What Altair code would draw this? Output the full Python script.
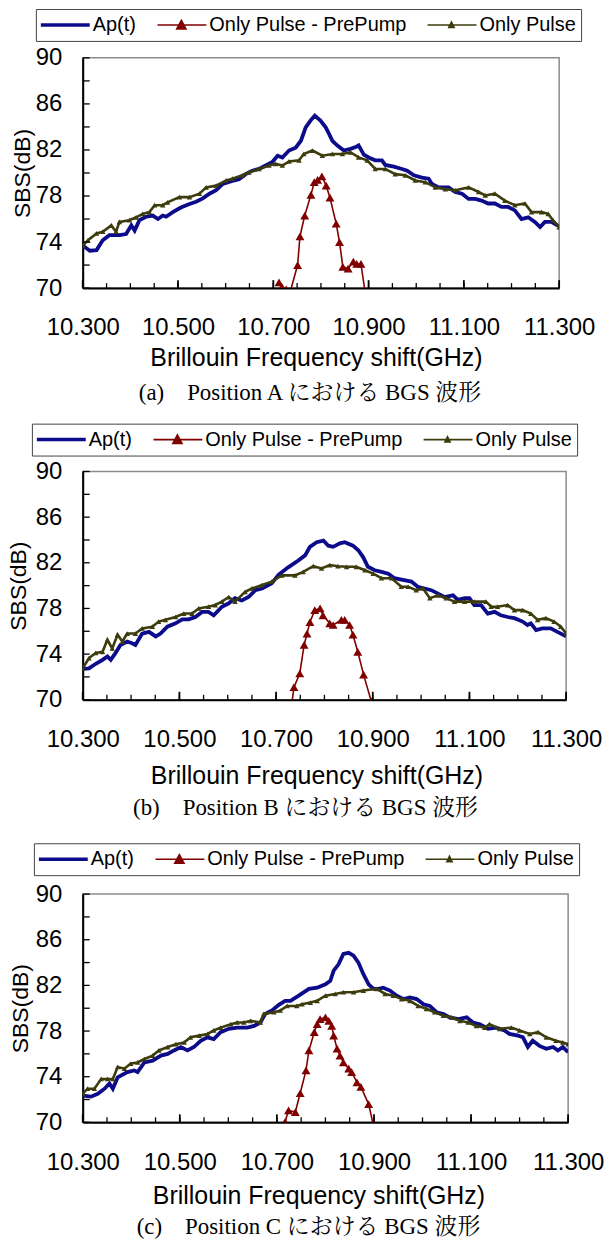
import altair as alt
import pandas as pd

SERIES = ["Ap(t)", "Only Pulse - PrePump", "Only Pulse"]
COLORS = ["#0b0b8b", "#800000", "#3c3c0c"]
X_LABELS = [10.3, 10.5, 10.7, 10.9, 11.1, 11.3]
X_TICKS = [10.3, 10.35, 10.4, 10.45, 10.5, 10.55, 10.6, 10.65, 10.7, 10.75, 10.8,
           10.85, 10.9, 10.95, 11.0, 11.05, 11.1, 11.15, 11.2, 11.25, 11.3]
Y_LABELS = [70, 74, 78, 82, 86, 90]
Y_TICKS = [70, 72, 74, 76, 78, 80, 82, 84, 86, 88, 90]
CAPTIONS = ["(a)　Position A における BGS 波形",
            "(b)　Position B における BGS 波形",
            "(c)　Position C における BGS 波形"]

# ---------------- Panel A ----------------
A_AP = [(10.300, 73.7), (10.315, 73.25), (10.329, 73.3), (10.342, 74.15), (10.356, 74.6),
        (10.377, 74.6), (10.391, 74.7), (10.402, 75.45), (10.409, 75.0), (10.419, 75.9),
        (10.433, 76.2), (10.447, 76.3), (10.458, 76.0), (10.468, 76.3), (10.475, 76.2),
        (10.489, 76.6), (10.506, 77.0), (10.524, 77.3), (10.538, 77.5), (10.552, 77.8),
        (10.566, 78.2), (10.580, 78.5), (10.594, 79.05), (10.614, 79.3), (10.628, 79.45),
        (10.642, 79.9), (10.656, 80.2), (10.670, 80.35), (10.684, 80.65), (10.698, 80.95),
        (10.709, 81.5), (10.719, 81.35), (10.733, 81.95), (10.747, 82.2), (10.758, 82.8),
        (10.768, 83.97), (10.778, 84.55), (10.787, 84.98), (10.799, 84.55), (10.810, 83.97),
        (10.817, 83.4), (10.824, 82.8), (10.834, 82.4), (10.848, 81.95), (10.862, 82.1),
        (10.873, 82.25), (10.879, 82.4), (10.890, 81.6), (10.900, 81.35), (10.914, 81.1),
        (10.928, 81.1), (10.935, 80.7), (10.953, 80.55), (10.970, 80.35), (10.981, 80.2),
        (10.995, 79.8), (11.012, 79.6), (11.026, 79.5), (11.033, 79.05), (11.047, 78.75),
        (11.068, 78.75), (11.082, 78.35), (11.096, 78.2), (11.110, 77.75), (11.124, 77.75),
        (11.137, 77.6), (11.151, 77.35), (11.165, 77.35), (11.179, 77.05), (11.193, 77.05),
        (11.207, 76.75), (11.221, 76.0), (11.235, 76.15), (11.249, 75.75), (11.260, 75.3),
        (11.270, 75.75), (11.284, 75.75), (11.298, 75.4)]
A_PP = [(10.712, 70.5), (10.718, 70.1), (10.727, 69.9), (10.733, 69.3), (10.751, 72.0),
        (10.756, 74.5), (10.766, 76.3), (10.779, 78.1), (10.786, 79.2), (10.793, 79.4),
        (10.802, 79.7), (10.811, 78.9), (10.819, 77.85), (10.832, 75.6), (10.839, 74.0),
        (10.846, 71.85), (10.857, 71.7), (10.868, 72.3), (10.875, 72.1), (10.884, 72.1),
        (10.895, 69.0)]
A_OP = [(10.300, 73.7), (10.311, 74.15), (10.329, 74.75), (10.342, 74.9), (10.360, 75.45),
        (10.370, 74.9), (10.377, 75.75), (10.398, 75.9), (10.412, 76.15), (10.426, 76.45),
        (10.440, 76.6), (10.451, 77.2), (10.468, 77.2), (10.478, 77.45), (10.503, 77.9),
        (10.524, 77.9), (10.545, 78.2), (10.559, 78.75), (10.580, 78.9), (10.601, 79.35),
        (10.614, 79.5), (10.635, 79.8), (10.649, 80.05), (10.670, 80.35), (10.691, 80.65),
        (10.705, 80.8), (10.719, 80.65), (10.733, 81.0), (10.754, 81.1), (10.764, 81.65),
        (10.782, 81.95), (10.803, 81.5), (10.824, 81.65), (10.845, 81.65), (10.862, 81.8),
        (10.879, 81.35), (10.897, 81.1), (10.914, 80.35), (10.935, 80.35), (10.956, 79.9),
        (10.977, 79.8), (10.998, 79.35), (11.019, 79.2), (11.040, 78.75), (11.061, 78.6),
        (11.082, 78.5), (11.110, 78.75), (11.131, 78.35), (11.145, 78.05), (11.165, 78.2),
        (11.186, 77.6), (11.207, 77.2), (11.228, 77.35), (11.242, 76.6), (11.263, 76.6),
        (11.277, 76.45), (11.287, 75.9), (11.300, 75.3)]

# ---------------- Panel B ----------------
B_AP = [(10.300, 72.7), (10.313, 72.75), (10.327, 73.15), (10.341, 73.5), (10.351, 73.8),
        (10.358, 73.5), (10.368, 74.1), (10.378, 74.8), (10.392, 75.1), (10.402, 74.95),
        (10.409, 74.8), (10.423, 75.8), (10.437, 75.95), (10.451, 75.55), (10.461, 75.8),
        (10.475, 76.4), (10.492, 76.7), (10.506, 77.05), (10.519, 77.05), (10.533, 77.25),
        (10.547, 77.7), (10.560, 77.7), (10.571, 77.4), (10.588, 78.15), (10.602, 78.45),
        (10.615, 78.9), (10.629, 78.7), (10.643, 79.0), (10.657, 79.6), (10.671, 79.75),
        (10.691, 80.2), (10.705, 80.95), (10.725, 81.6), (10.746, 82.2), (10.760, 82.65),
        (10.770, 83.4), (10.784, 83.8), (10.798, 83.95), (10.808, 83.5), (10.818, 83.4),
        (10.832, 83.7), (10.842, 83.8), (10.859, 83.5), (10.870, 83.1), (10.880, 82.5),
        (10.890, 81.65), (10.904, 81.35), (10.918, 81.2), (10.932, 81.05), (10.945, 80.65),
        (10.962, 80.5), (10.980, 80.35), (10.993, 79.9), (11.007, 79.75), (11.021, 79.6),
        (11.035, 79.3), (11.048, 79.0), (11.066, 79.15), (11.076, 78.75), (11.090, 78.9),
        (11.100, 78.9), (11.110, 78.3), (11.124, 78.3), (11.138, 77.55), (11.152, 77.7),
        (11.165, 77.4), (11.179, 77.25), (11.193, 77.15), (11.210, 76.85), (11.220, 76.55),
        (11.227, 76.7), (11.238, 76.1), (11.251, 76.25), (11.268, 76.25), (11.282, 75.95),
        (11.300, 75.55)]
B_PP = [(10.732, 69.5), (10.737, 71.1), (10.749, 72.3), (10.758, 74.8), (10.764, 75.8),
        (10.770, 76.8), (10.780, 77.85), (10.791, 78.0), (10.797, 77.4), (10.811, 76.7),
        (10.818, 76.55), (10.835, 77.0), (10.842, 77.0), (10.852, 76.55), (10.859, 75.7),
        (10.869, 74.2), (10.881, 72.2), (10.897, 69.85)]
B_OP = [(10.300, 72.75), (10.313, 73.65), (10.327, 74.1), (10.341, 74.2), (10.351, 75.25),
        (10.361, 74.5), (10.372, 75.7), (10.382, 75.1), (10.392, 75.8), (10.409, 75.8),
        (10.423, 76.25), (10.444, 76.4), (10.457, 76.85), (10.471, 77.0), (10.492, 77.25),
        (10.509, 77.55), (10.526, 77.55), (10.540, 78.0), (10.560, 78.15), (10.574, 78.3),
        (10.588, 78.6), (10.602, 79.0), (10.615, 78.6), (10.636, 79.45), (10.650, 79.75),
        (10.671, 80.05), (10.691, 80.35), (10.712, 80.9), (10.739, 80.9), (10.756, 81.2),
        (10.777, 81.7), (10.794, 81.5), (10.811, 81.8), (10.828, 81.7), (10.846, 81.65),
        (10.866, 81.65), (10.884, 81.35), (10.901, 81.05), (10.918, 80.65), (10.939, 80.65),
        (10.959, 79.9), (10.973, 79.9), (10.990, 79.6), (11.004, 79.75), (11.018, 78.9),
        (11.035, 79.15), (11.052, 78.9), (11.069, 78.6), (11.090, 78.6), (11.110, 78.6),
        (11.134, 78.6), (11.145, 78.15), (11.158, 78.15), (11.179, 78.3), (11.193, 77.85),
        (11.210, 77.85), (11.227, 77.55), (11.241, 77.0), (11.258, 77.15), (11.275, 76.85),
        (11.289, 76.4), (11.300, 75.8)]

# ---------------- Panel C ----------------
C_AP = [(10.300, 72.35), (10.317, 72.25), (10.331, 72.5), (10.345, 72.95), (10.355, 73.4),
        (10.362, 72.95), (10.372, 73.95), (10.392, 74.4), (10.406, 74.55), (10.413, 74.4),
        (10.427, 75.25), (10.444, 75.4), (10.461, 75.85), (10.475, 76.0), (10.488, 76.3),
        (10.502, 76.6), (10.516, 76.3), (10.529, 76.6), (10.543, 77.15), (10.557, 77.45),
        (10.570, 77.3), (10.584, 77.9), (10.601, 78.2), (10.618, 78.3), (10.639, 78.3),
        (10.653, 78.45), (10.666, 78.75), (10.676, 79.5), (10.690, 79.8), (10.704, 80.3),
        (10.717, 80.65), (10.728, 80.65), (10.745, 81.1), (10.766, 81.7), (10.783, 81.8),
        (10.800, 82.1), (10.810, 82.4), (10.817, 83.3), (10.827, 83.85), (10.837, 84.75),
        (10.848, 84.85), (10.858, 84.6), (10.868, 84.0), (10.878, 83.0), (10.889, 82.1),
        (10.899, 81.7), (10.909, 81.7), (10.919, 81.8), (10.933, 81.55), (10.947, 81.1),
        (10.961, 80.8), (10.974, 80.95), (10.988, 80.8), (11.002, 80.35), (11.015, 80.2),
        (11.029, 79.65), (11.043, 79.5), (11.056, 79.2), (11.074, 79.05), (11.091, 79.2),
        (11.104, 78.75), (11.118, 78.6), (11.135, 78.2), (11.152, 78.3), (11.169, 78.05),
        (11.179, 77.75), (11.197, 77.6), (11.207, 77.45), (11.217, 76.6), (11.227, 77.15),
        (11.241, 76.7), (11.255, 76.45), (11.269, 76.6), (11.279, 76.3), (11.289, 76.6),
        (11.300, 76.15)]
C_PP = [(10.715, 69.5), (10.717, 70.05), (10.724, 71.05), (10.738, 70.9), (10.748, 72.55),
        (10.760, 74.55), (10.766, 76.3), (10.777, 77.9), (10.783, 78.6), (10.789, 79.05),
        (10.800, 79.2), (10.807, 78.9), (10.813, 78.45), (10.817, 77.6), (10.824, 76.45),
        (10.830, 75.85), (10.837, 75.25), (10.848, 74.7), (10.854, 74.4), (10.865, 73.5),
        (10.873, 73.1), (10.889, 71.6), (10.899, 69.7)]
C_OP = [(10.300, 72.5), (10.310, 72.95), (10.324, 72.95), (10.338, 73.8), (10.351, 73.8),
        (10.362, 73.8), (10.372, 74.85), (10.386, 74.7), (10.399, 75.15), (10.413, 75.25),
        (10.427, 75.55), (10.444, 75.85), (10.457, 76.3), (10.475, 76.6), (10.492, 76.85),
        (10.509, 77.0), (10.522, 77.45), (10.540, 77.6), (10.557, 77.75), (10.570, 78.05),
        (10.584, 78.3), (10.605, 78.6), (10.618, 78.75), (10.632, 78.75), (10.646, 78.9),
        (10.666, 78.75), (10.673, 79.5), (10.694, 79.65), (10.707, 79.8), (10.721, 80.2),
        (10.741, 80.2), (10.752, 80.35), (10.769, 80.5), (10.783, 80.65), (10.800, 81.1),
        (10.820, 81.25), (10.837, 81.4), (10.858, 81.4), (10.878, 81.55), (10.906, 81.7),
        (10.923, 81.25), (10.940, 81.1), (10.957, 80.8), (10.974, 80.65), (10.991, 80.2),
        (11.008, 79.95), (11.025, 79.65), (11.043, 79.35), (11.060, 79.2), (11.077, 78.9),
        (11.094, 78.75), (11.111, 78.45), (11.128, 78.3), (11.138, 78.6), (11.159, 78.2),
        (11.183, 78.3), (11.200, 78.05), (11.221, 77.75), (11.238, 77.9), (11.255, 77.45),
        (11.275, 77.15), (11.289, 77.0), (11.300, 76.85)]

SANS = "Liberation Sans, Arial, sans-serif"
SERIF = "Liberation Serif, Noto Serif CJK JP, Noto Sans CJK JP, serif"

# legend symbol: a 50px line (asymmetric path so it sits left of the label) with a marker
SYM_EXPR = ("datum.value == 'Ap(t)' ? 'M-1,0H3.55' : datum.value == 'Only Pulse - PrePump' ? "
            "'M-1,0H3.55M0.85,0.36L1.27,-0.42L1.69,0.36Z' : "
            "'M-1,0H3.55M1.03,0.22L1.27,-0.26L1.51,0.22Z'")
SW_EXPR = "datum.value == 'Ap(t)' ? 3.5 : 1.6"
FILL_EXPR = ("datum.value == 'Ap(t)' ? '%s' : datum.value == 'Only Pulse - PrePump' ? '%s' : '%s'"
             % tuple(COLORS))


def frame(pairs, name):
    return pd.DataFrame(pairs, columns=["f", "v"]).assign(series=name)


def panel(ap, pp, op, W, H, lx, ly, caption, ypad, tpad, cap_off, cap_dx, tdx):
    xs = alt.Scale(domain=[10.3, 11.3], nice=False, zero=False)
    ys = alt.Scale(domain=[70, 90], nice=False, zero=False)
    leg = alt.Legend(
        orient="none", legendX=lx, legendY=ly, direction="horizontal", title=None,
        symbolType=alt.ExprRef(expr=SYM_EXPR),
        symbolStrokeWidth=alt.ExprRef(expr=SW_EXPR),
        symbolFillColor=alt.ExprRef(expr=FILL_EXPR),
        symbolSize=484, symbolOpacity=1, clipHeight=22,
        labelFont=SANS, labelFontSize=20, labelColor="black", labelLimit=0,
        labelOffset=32, columnPadding=21, padding=5,
        strokeColor="#444444", fillColor="white",
    )
    ax_bottom = alt.Axis(
        orient="bottom", values=X_LABELS, format=".3f", ticks=False, grid=False,
        domainColor="black", domainWidth=2, labelFont=SANS, labelFontSize=24,
        labelColor="black", labelPadding=28, labelFlush=False, labelOverlap=False,
        title="Brillouin Frequency shift(GHz)", titleFont=SANS, titleFontSize=25,
        titleFontWeight="normal", titleColor="black", titlePadding=tpad, titleX=W / 2 + tdx,
    )
    ax_left = alt.Axis(
        orient="left", values=Y_LABELS, format="d", ticks=False, grid=False,
        domainColor="black", domainWidth=2, labelFont=SANS, labelFontSize=24,
        labelColor="black", labelPadding=21,
        title="SBS(dB)", titleFont=SANS, titleFontSize=23, titleFontWeight="normal",
        titleColor="black", titlePadding=ypad,
    )

    blue = alt.Chart(frame(ap, SERIES[0])).mark_line(strokeWidth=3.8, clip=True).encode(
        x=alt.X("f:Q", scale=xs, axis=ax_bottom),
        y=alt.Y("v:Q", scale=ys, axis=ax_left),
        color=alt.Color("series:N", scale=alt.Scale(domain=SERIES, range=COLORS), legend=leg),
    )
    red_line = alt.Chart(frame(pp, SERIES[1])).mark_line(
        strokeWidth=1.6, clip=True, color=COLORS[1]).encode(
        x=alt.X("f:Q", scale=xs, axis=None),
        y=alt.Y("v:Q", scale=ys, axis=None),
    )
    red_pts = alt.Chart(frame(pp, SERIES[1])).mark_point(
        shape="triangle-up", filled=True, size=80, opacity=1, clip=True,
        color=COLORS[1]).encode(
        x=alt.X("f:Q", scale=xs, axis=None),
        y=alt.Y("v:Q", scale=ys, axis=None),
    )
    olive_line = alt.Chart(frame(op, SERIES[2])).mark_line(
        strokeWidth=2.6, clip=True, color=COLORS[2]).encode(
        x=alt.X("f:Q", scale=xs, axis=None),
        y=alt.Y("v:Q", scale=ys, axis=None),
    )
    olive_pts = alt.Chart(frame(op, SERIES[2])).mark_point(
        shape="triangle-up", filled=True, size=30, opacity=1, clip=True,
        color=COLORS[2]).encode(
        x=alt.X("f:Q", scale=xs, axis=None),
        y=alt.Y("v:Q", scale=ys, axis=None),
    )
    # inward tick marks along the bottom and left axes
    xt_minor = alt.Chart(pd.DataFrame({"t": X_TICKS})).mark_rule(
        color="black", strokeWidth=1.3).encode(
        x=alt.X("t:Q", scale=xs, axis=None), y=alt.value(H), y2=alt.value(H - 5))
    xt_major = alt.Chart(pd.DataFrame({"t": X_LABELS})).mark_rule(
        color="black", strokeWidth=1.8).encode(
        x=alt.X("t:Q", scale=xs, axis=None), y=alt.value(H), y2=alt.value(H - 8))
    yt = alt.Chart(pd.DataFrame({"t": Y_TICKS})).mark_rule(
        color="black", strokeWidth=1.3).encode(
        y=alt.Y("t:Q", scale=ys, axis=None), x=alt.value(0), x2=alt.value(7))

    return alt.layer(blue, red_line, red_pts, olive_line, olive_pts,
                     xt_minor, xt_major, yt).resolve_axis(
        x="independent", y="independent"
    ).properties(
        width=W, height=H,
        title=alt.TitleParams(text=caption, orient="bottom", font=SERIF, fontSize=23,
                              fontWeight="normal", color="black", anchor="middle",
                              frame="group", offset=cap_off, dx=cap_dx),
    )


pa = panel(A_AP, A_PP, A_OP, 478, 231, -47, -49, CAPTIONS[0], 1, 5.5, 12, -11, -5)
pb = panel(B_AP, B_PP, B_OP, 485, 229, -51, -48, CAPTIONS[1], 5, 12.5, 8, -19, -8)
pc = panel(C_AP, C_PP, C_OP, 487, 229, -49, -51, CAPTIONS[2], 3, 9.5, 8, -17, -7)

top_two = alt.vconcat(pa, pb, spacing=15).resolve_scale(
    color="independent").resolve_legend(color="independent")
chart = alt.vconcat(top_two, pc, spacing=20).resolve_scale(
    color="independent"
).resolve_legend(color="independent").properties(
    padding={"top": 5, "left": 6, "right": 0, "bottom": 0},
    background="white",
).configure_view(stroke="#8c8c8c", strokeWidth=1.5)

chart.save("out.html", embed_options={"renderer": "svg", "actions": False})
